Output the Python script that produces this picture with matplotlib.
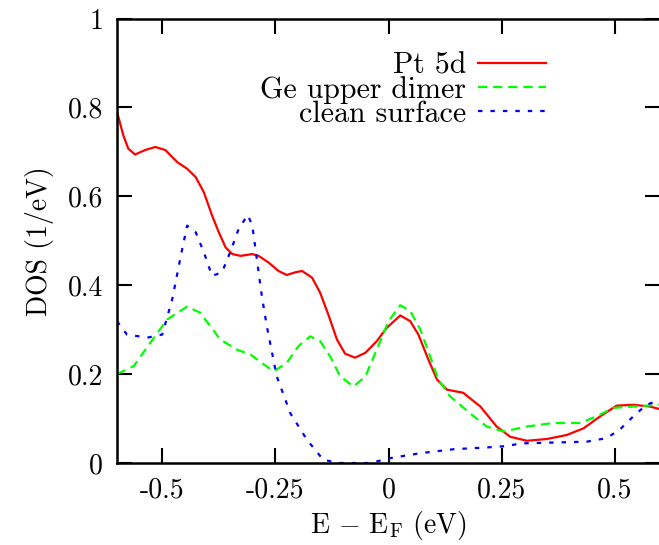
import matplotlib
matplotlib.use('Agg')
import matplotlib.pyplot as plt

# values
pt_x = [-0.600, -0.586, -0.575, -0.560, -0.538, -0.515, -0.493, -0.467, -0.445, -0.426,
        -0.408, -0.390, -0.375, -0.360, -0.345, -0.327, -0.301, -0.287, -0.265, -0.243,
        -0.225, -0.206, -0.191, -0.169, -0.151, -0.132, -0.114, -0.096, -0.074, -0.051,
        -0.026, -0.004, 0.026, 0.048, 0.066, 0.088, 0.107, 0.129, 0.165, 0.203,
        0.239, 0.269, 0.306, 0.350, 0.394, 0.431, 0.468, 0.504, 0.541, 0.578,
        0.600]
pt_y = [0.790, 0.737, 0.707, 0.694, 0.704, 0.711, 0.704, 0.677, 0.662, 0.643,
        0.609, 0.557, 0.519, 0.485, 0.470, 0.466, 0.470, 0.466, 0.451, 0.432,
        0.423, 0.429, 0.432, 0.417, 0.383, 0.331, 0.278, 0.246, 0.237, 0.248,
        0.274, 0.304, 0.332, 0.319, 0.289, 0.233, 0.188, 0.165, 0.158, 0.127,
        0.082, 0.059, 0.050, 0.054, 0.063, 0.078, 0.105, 0.129, 0.131, 0.127,
        0.121]

ge_x = [-0.600, -0.563, -0.526, -0.489, -0.445, -0.416, -0.372, -0.335, -0.305, -0.254,
        -0.225, -0.199, -0.173, -0.151, -0.129, -0.107, -0.077, -0.051, -0.026, 0.000,
        0.026, 0.048, 0.070, 0.092, 0.110, 0.136, 0.180, 0.217, 0.254, 0.306,
        0.364, 0.423, 0.460, 0.497, 0.541, 0.600]
ge_y = [0.200, 0.218, 0.271, 0.323, 0.352, 0.338, 0.278, 0.255, 0.244, 0.206,
        0.225, 0.263, 0.285, 0.274, 0.240, 0.195, 0.172, 0.195, 0.255, 0.319,
        0.355, 0.342, 0.301, 0.240, 0.188, 0.150, 0.112, 0.082, 0.071, 0.082,
        0.090, 0.090, 0.105, 0.124, 0.127, 0.131]

cs_x = [-0.600, -0.578, -0.533, -0.500, -0.478, -0.459, -0.445, -0.426, -0.408, -0.390,
        -0.368, -0.350, -0.331, -0.311, -0.301, -0.291, -0.280, -0.269, -0.247, -0.217,
        -0.180, -0.144, -0.107, -0.040, 0.004, 0.070, 0.144, 0.217, 0.261, 0.291,
        0.364, 0.438, 0.482, 0.511, 0.541, 0.570, 0.600]
cs_y = [0.319, 0.289, 0.282, 0.289, 0.368, 0.466, 0.534, 0.519, 0.474, 0.421,
        0.429, 0.474, 0.527, 0.558, 0.534, 0.459, 0.376, 0.308, 0.195, 0.112,
        0.052, 0.007, 0.000, 0.000, 0.011, 0.022, 0.031, 0.035, 0.038, 0.044,
        0.046, 0.048, 0.056, 0.075, 0.105, 0.131, 0.142]

labels = ['Pt 5d', 'Ge upper dimer', 'clean surface']
x_ticks = [-0.5, -0.25, 0, 0.25, 0.5]
x_ticklabels = ['-0.5', '-0.25', '0', '0.25', '0.5']
y_ticks = [0, 0.2, 0.4, 0.6, 0.8, 1]
y_ticklabels = ['0', '0.2', '0.4', '0.6', '0.8', '1']

plt.rcParams['font.family'] = 'cmr10'
plt.rcParams['mathtext.fontset'] = 'cm'
plt.rcParams['axes.unicode_minus'] = False

W, H = 659, 545
fig = plt.figure(figsize=(W / 100, H / 100), dpi=100)
ax = fig.add_axes([117 / W, 82 / H, 543 / W, 444.5 / H])

lw = 1.6
ax.plot(pt_x, pt_y, color='#ff0000', lw=lw, label=labels[0])
ax.plot(ge_x, ge_y, color='#00ff00', lw=lw, dashes=(4.2, 2.6), label=labels[1])
ax.plot(cs_x, cs_y, color='#0000ff', lw=lw, dashes=(2.0, 3.6), label=labels[2])

ax.set_xlim(-0.6, 0.6)
ax.set_ylim(0, 1)
ax.set_xticks(x_ticks)
ax.set_xticklabels(x_ticklabels)
ax.set_yticks(y_ticks)
ax.set_yticklabels(y_ticklabels)
ax.tick_params(direction='in', length=11, width=1.5, labelsize=20,
               top=True, right=True, pad=10)
for s in ax.spines.values():
    s.set_linewidth(1.8)

ax.set_xlabel(r'E $-$ E$_{\rm F}$ (eV)', fontsize=20, labelpad=4)
ax.set_ylabel('DOS (1/eV)', fontsize=20, labelpad=10)

leg = ax.legend(loc='upper right', bbox_to_anchor=(546 / W, 1 - 52 / H),
                bbox_transform=fig.transFigure, frameon=False, markerfirst=False,
                fontsize=21.5, handlelength=2.27, handletextpad=0.4,
                labelspacing=-0.12, borderpad=0, borderaxespad=0)
for t in leg.get_texts():
    t.set_ha('right')

fig.savefig('out.png', dpi=100)
